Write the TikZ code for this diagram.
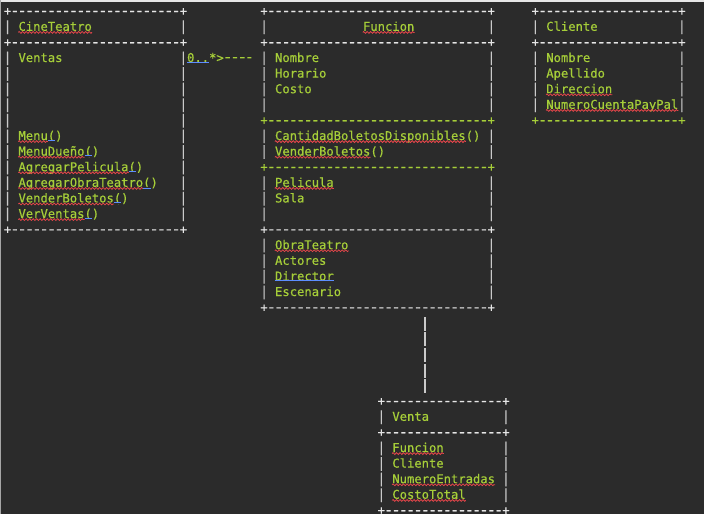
\documentclass[tikz,border=0pt]{standalone}
\usepackage{fontspec}
\usepackage{graphicx}
\setmonofont[FakeBold=0.5]{DejaVu Sans Mono}
\usetikzlibrary{decorations.pathmorphing}

\definecolor{editorbg}{HTML}{2B2B2B}
\definecolor{codegreen}{HTML}{A6CE39}
\definecolor{codewhite}{HTML}{E6E6E6}
\definecolor{codegray}{HTML}{CACACA}
\definecolor{spellred}{HTML}{E8464B}
\definecolor{hintblue}{HTML}{5C8DFF}

\tikzset{
  txt/.style={font=\ttfamily\fontsize{12.18pt}{15.6pt}\selectfont,
    text=codegreen, inner sep=0pt, anchor=base west},
  framechar/.style={txt, text=codewhite},
  spell/.style={draw=spellred, line width=0.75pt, decorate,
    decoration={zigzag, segment length=3.5pt, amplitude=0.9pt}},
  hint/.style={draw=hintblue, line width=0.7pt, double=editorbg, double distance=0.5pt},
  link/.style={line width=1.2pt}
}

% one border line of a box: colour, column, row, number of dashes
\newcommand{\hborder}[4]{\node[framechar, text=#1] at (#2,#3)
  {+\foreach \d in {1,...,#4}{\makebox[7.33pt]{\scalebox{1.3}[1.1]{-}}}+};}
% side bars of a box: left column, right column, rows
\newcommand{\vbars}[3]{\foreach \r in {#3}{%
  \node[framechar, text=codegray] at (#1,\r) {\scalebox{1}[1.12]{|}};
  \node[framechar, text=codegray] at (#2,\r) {\scalebox{1}[1.12]{|}};}}
% red squiggle under a word (optional: part at the end left out)
\newcommand{\typo}[2][0pt]{\draw[spell] ([yshift=-1.6pt]#2.base west) -- ([xshift=-#1,yshift=-1.6pt]#2.base east);}
% blue mark under the opening bracket
\newcommand{\parenhint}[1]{\draw[hint] ([xshift=-14.66pt,yshift=-0.8pt]#1.base east) -- ([xshift=-7.33pt,yshift=-0.8pt]#1.base east);}

\begin{document}
\begin{tikzpicture}
  \useasboundingbox (0pt,0pt) rectangle (704pt,-514pt);
  \fill[editorbg] (0pt,0pt) rectangle (704pt,-514pt);
  \fill[codewhite] (0pt,0pt) rectangle (704pt,-1.5pt);
  \fill[gray!70] (0pt,0pt) rectangle (1pt,-514pt);

  \begin{scope}[x=7.33pt, y=-15.6pt, shift={(3.66pt,-15.2pt)}]
    % CineTeatro
    \hborder{codewhite}{0}{0}{23}
    \hborder{codewhite}{0}{2}{23}
    \hborder{codewhite}{0}{14}{23}
    \vbars{0}{24}{1,3,4,...,13}
    \node[txt] (cine-name) at (2,1) {CineTeatro};
    \node[txt] (cine-ventas) at (2,3) {Ventas};
    \node[txt] (cine-menu) at (2,8) {Menu()};
    \node[txt] (cine-dueno) at (2,9) {MenuDueño()};
    \node[txt] (cine-pelicula) at (2,10) {AgregarPelicula()};
    \node[txt] (cine-obra) at (2,11) {AgregarObraTeatro()};
    \node[txt] (cine-vender) at (2,12) {VenderBoletos()};
    \node[txt] (cine-verventas) at (2,13) {VerVentas()};
    \typo{cine-name}
    \foreach \m in {menu,dueno,pelicula,obra,vender,verventas}{
      \typo[14.66pt]{cine-\m}
      \parenhint{cine-\m}
    }

    % Funcion
    \hborder{codewhite}{35}{0}{30}
    \hborder{codewhite}{35}{2}{30}
    \hborder{codegreen}{35}{7}{30}
    \hborder{codegreen}{35}{10}{30}
    \hborder{codewhite}{35}{14}{30}
    \hborder{codewhite}{35}{19}{30}
    \vbars{35}{66}{1,3,4,5,6,8,9,11,12,13,15,16,17,18}
    \node[txt] (fun-name) at (49,1) {Funcion};
    \node[txt] (fun-nombre) at (37,3) {Nombre};
    \node[txt] (fun-horario) at (37,4) {Horario};
    \node[txt] (fun-costo) at (37,5) {Costo};
    \node[txt] (fun-cantidad) at (37,8) {CantidadBoletosDisponibles()};
    \node[txt] (fun-vender) at (37,9) {VenderBoletos()};
    \node[txt] (fun-pelicula) at (37,11) {Pelicula};
    \node[txt] (fun-sala) at (37,12) {Sala};
    \node[txt] (fun-obra) at (37,15) {ObraTeatro};
    \node[txt] (fun-actores) at (37,16) {Actores};
    \node[txt] (fun-director) at (37,17) {Director};
    \node[txt] (fun-escenario) at (37,18) {Escenario};
    \typo{fun-name}
    \typo[14.66pt]{fun-cantidad}
    \typo[14.66pt]{fun-vender}
    \typo{fun-pelicula}
    \typo{fun-obra}
    \draw[hint] ([yshift=-0.8pt]fun-director.base west) -- ([yshift=-0.8pt]fun-director.base east);

    % Cliente
    \hborder{codewhite}{72}{0}{19}
    \hborder{codewhite}{72}{2}{19}
    \hborder{codegreen}{72}{7}{19}
    \vbars{72}{92}{1,3,4,5,6}
    \node[txt] (cli-name) at (74,1) {Cliente};
    \node[txt] (cli-nombre) at (74,3) {Nombre};
    \node[txt] (cli-apellido) at (74,4) {Apellido};
    \node[txt] (cli-direccion) at (74,5) {Direccion};
    \node[txt] (cli-cuenta) at (74,6) {NumeroCuentaPayPal};
    \typo{cli-direccion}
    \typo{cli-cuenta}

    % Venta
    \hborder{codewhite}{51}{25}{16}
    \hborder{codewhite}{51}{27}{16}
    \hborder{codewhite}{51}{32}{16}
    \vbars{51}{68}{26,28,29,30,31}
    \node[txt] (ven-name) at (53,26) {Venta};
    \node[txt] (ven-funcion) at (53,28) {Funcion};
    \node[txt] (ven-cliente) at (53,29) {Cliente};
    \node[txt] (ven-entradas) at (53,30) {NumeroEntradas};
    \node[txt] (ven-costo) at (53,31) {CostoTotal};
    \typo{ven-funcion}
    \typo{ven-entradas}
    \typo{ven-costo}

    % CineTeatro -- Funcion
    \node[txt] (mult) at (25,3) {0..*>};
    \draw[hint] ([yshift=-0.8pt]mult.base west) -- ([xshift=21.99pt,yshift=-0.8pt]mult.base west);
    \coordinate (fun-side) at (33.8,2.73);
    \draw[link, codegreen, dash pattern=on 4.4pt off 2.93pt]
      ([shift={(1.47pt,4.2pt)}]mult.base east) -- (fun-side);

    % Funcion -- Venta
    \coordinate (fun-foot) at (57.5,19.33);
    \coordinate (ven-head) at (57.5,24.22);
    \draw[link, codegray, line width=1.4pt, dash pattern=on 14pt off 1.6pt] (fun-foot) -- (ven-head);
  \end{scope}
\end{tikzpicture}
\end{document}
